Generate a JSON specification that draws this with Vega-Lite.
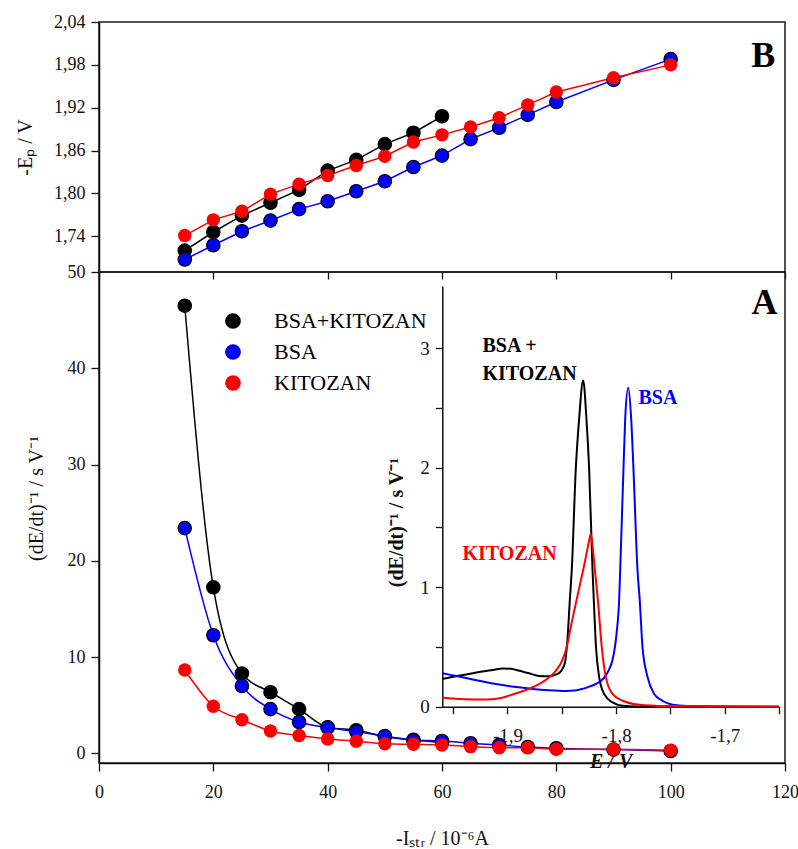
{
  "$schema": "https://vega.github.io/schema/vega-lite/v6.json",
  "padding": {"left": 14, "top": 12, "right": 5, "bottom": 5},
  "background": "white",
  "spacing": 0,
  "bounds": "flush",
  "datasets": {
    "B": [
      {"series": "BSA+KITOZAN", "I": 15, "Ep": 1.720},
      {"series": "BSA+KITOZAN", "I": 20, "Ep": 1.746},
      {"series": "BSA+KITOZAN", "I": 25, "Ep": 1.769},
      {"series": "BSA+KITOZAN", "I": 30, "Ep": 1.787},
      {"series": "BSA+KITOZAN", "I": 35, "Ep": 1.805},
      {"series": "BSA+KITOZAN", "I": 40, "Ep": 1.832},
      {"series": "BSA+KITOZAN", "I": 45, "Ep": 1.847},
      {"series": "BSA+KITOZAN", "I": 50, "Ep": 1.869},
      {"series": "BSA+KITOZAN", "I": 55, "Ep": 1.885},
      {"series": "BSA+KITOZAN", "I": 60, "Ep": 1.908},
      {"series": "BSA", "I": 15, "Ep": 1.7075},
      {"series": "BSA", "I": 20, "Ep": 1.7275},
      {"series": "BSA", "I": 25, "Ep": 1.747},
      {"series": "BSA", "I": 30, "Ep": 1.762},
      {"series": "BSA", "I": 35, "Ep": 1.778},
      {"series": "BSA", "I": 40, "Ep": 1.789},
      {"series": "BSA", "I": 45, "Ep": 1.803},
      {"series": "BSA", "I": 50, "Ep": 1.817},
      {"series": "BSA", "I": 55, "Ep": 1.837},
      {"series": "BSA", "I": 60, "Ep": 1.853},
      {"series": "BSA", "I": 65, "Ep": 1.876},
      {"series": "BSA", "I": 70, "Ep": 1.892},
      {"series": "BSA", "I": 75, "Ep": 1.910},
      {"series": "BSA", "I": 80, "Ep": 1.928},
      {"series": "BSA", "I": 90, "Ep": 1.959},
      {"series": "BSA", "I": 100, "Ep": 1.988},
      {"series": "KITOZAN", "I": 15, "Ep": 1.741},
      {"series": "KITOZAN", "I": 20, "Ep": 1.763},
      {"series": "KITOZAN", "I": 25, "Ep": 1.775},
      {"series": "KITOZAN", "I": 30, "Ep": 1.799},
      {"series": "KITOZAN", "I": 35, "Ep": 1.813},
      {"series": "KITOZAN", "I": 40, "Ep": 1.825},
      {"series": "KITOZAN", "I": 45, "Ep": 1.839},
      {"series": "KITOZAN", "I": 50, "Ep": 1.852},
      {"series": "KITOZAN", "I": 55, "Ep": 1.872},
      {"series": "KITOZAN", "I": 60, "Ep": 1.882},
      {"series": "KITOZAN", "I": 65, "Ep": 1.893},
      {"series": "KITOZAN", "I": 70, "Ep": 1.906},
      {"series": "KITOZAN", "I": 75, "Ep": 1.924},
      {"series": "KITOZAN", "I": 80, "Ep": 1.942},
      {"series": "KITOZAN", "I": 90, "Ep": 1.962},
      {"series": "KITOZAN", "I": 100, "Ep": 1.980}
    ],
    "A": [
      {"series": "BSA+KITOZAN", "I": 15, "inv": 46.5},
      {"series": "BSA+KITOZAN", "I": 20, "inv": 17.25},
      {"series": "BSA+KITOZAN", "I": 25, "inv": 8.3},
      {"series": "BSA+KITOZAN", "I": 30, "inv": 6.35},
      {"series": "BSA+KITOZAN", "I": 35, "inv": 4.6},
      {"series": "BSA+KITOZAN", "I": 40, "inv": 2.7},
      {"series": "BSA+KITOZAN", "I": 45, "inv": 2.4},
      {"series": "BSA+KITOZAN", "I": 50, "inv": 1.75},
      {"series": "BSA+KITOZAN", "I": 55, "inv": 1.4},
      {"series": "BSA+KITOZAN", "I": 60, "inv": 1.15},
      {"series": "BSA", "I": 15, "inv": 23.4},
      {"series": "BSA", "I": 20, "inv": 12.27},
      {"series": "BSA", "I": 25, "inv": 7.0},
      {"series": "BSA", "I": 30, "inv": 4.6},
      {"series": "BSA", "I": 35, "inv": 3.26},
      {"series": "BSA", "I": 40, "inv": 2.68},
      {"series": "BSA", "I": 45, "inv": 2.27},
      {"series": "BSA", "I": 50, "inv": 1.8},
      {"series": "BSA", "I": 55, "inv": 1.36},
      {"series": "BSA", "I": 60, "inv": 1.29},
      {"series": "BSA", "I": 65, "inv": 1.05},
      {"series": "BSA", "I": 70, "inv": 0.87},
      {"series": "BSA", "I": 75, "inv": 0.66},
      {"series": "BSA", "I": 80, "inv": 0.53},
      {"series": "BSA", "I": 90, "inv": 0.39},
      {"series": "BSA", "I": 100, "inv": 0.25},
      {"series": "KITOZAN", "I": 15, "inv": 8.66},
      {"series": "KITOZAN", "I": 20, "inv": 4.9},
      {"series": "KITOZAN", "I": 25, "inv": 3.5},
      {"series": "KITOZAN", "I": 30, "inv": 2.33},
      {"series": "KITOZAN", "I": 35, "inv": 1.85},
      {"series": "KITOZAN", "I": 40, "inv": 1.5},
      {"series": "KITOZAN", "I": 45, "inv": 1.27},
      {"series": "KITOZAN", "I": 50, "inv": 1.0},
      {"series": "KITOZAN", "I": 55, "inv": 0.94},
      {"series": "KITOZAN", "I": 60, "inv": 0.87},
      {"series": "KITOZAN", "I": 65, "inv": 0.70},
      {"series": "KITOZAN", "I": 70, "inv": 0.59},
      {"series": "KITOZAN", "I": 75, "inv": 0.59},
      {"series": "KITOZAN", "I": 80, "inv": 0.43},
      {"series": "KITOZAN", "I": 90, "inv": 0.43},
      {"series": "KITOZAN", "I": 100, "inv": 0.32}
    ],
    "inset": [
      {"series": "BSA+KITOZAN", "E": -1.960, "v": 0.233},
      {"series": "BSA+KITOZAN", "E": -1.950, "v": 0.25},
      {"series": "BSA+KITOZAN", "E": -1.938, "v": 0.27},
      {"series": "BSA+KITOZAN", "E": -1.923, "v": 0.295},
      {"series": "BSA+KITOZAN", "E": -1.912, "v": 0.31},
      {"series": "BSA+KITOZAN", "E": -1.9046, "v": 0.32},
      {"series": "BSA+KITOZAN", "E": -1.897, "v": 0.318},
      {"series": "BSA+KITOZAN", "E": -1.889, "v": 0.30},
      {"series": "BSA+KITOZAN", "E": -1.880, "v": 0.28},
      {"series": "BSA+KITOZAN", "E": -1.871, "v": 0.257},
      {"series": "BSA+KITOZAN", "E": -1.862, "v": 0.255},
      {"series": "BSA+KITOZAN", "E": -1.855, "v": 0.27},
      {"series": "BSA+KITOZAN", "E": -1.8505, "v": 0.30},
      {"series": "BSA+KITOZAN", "E": -1.847, "v": 0.37},
      {"series": "BSA+KITOZAN", "E": -1.8448, "v": 0.56},
      {"series": "BSA+KITOZAN", "E": -1.8426, "v": 0.89},
      {"series": "BSA+KITOZAN", "E": -1.8408, "v": 1.146},
      {"series": "BSA+KITOZAN", "E": -1.8371, "v": 1.99},
      {"series": "BSA+KITOZAN", "E": -1.834, "v": 2.41},
      {"series": "BSA+KITOZAN", "E": -1.8303, "v": 2.73},
      {"series": "BSA+KITOZAN", "E": -1.8273, "v": 2.41},
      {"series": "BSA+KITOZAN", "E": -1.8248, "v": 1.99},
      {"series": "BSA+KITOZAN", "E": -1.8217, "v": 1.146},
      {"series": "BSA+KITOZAN", "E": -1.8205, "v": 0.89},
      {"series": "BSA+KITOZAN", "E": -1.8185, "v": 0.5},
      {"series": "BSA+KITOZAN", "E": -1.8156, "v": 0.25},
      {"series": "BSA+KITOZAN", "E": -1.811, "v": 0.107},
      {"series": "BSA+KITOZAN", "E": -1.8033, "v": 0.036},
      {"series": "BSA+KITOZAN", "E": -1.794, "v": 0.008},
      {"series": "BSA+KITOZAN", "E": -1.78, "v": 0.002},
      {"series": "BSA+KITOZAN", "E": -1.65, "v": 0.0},
      {"series": "BSA", "E": -1.960, "v": 0.28},
      {"series": "BSA", "E": -1.950, "v": 0.262},
      {"series": "BSA", "E": -1.938, "v": 0.24},
      {"series": "BSA", "E": -1.925, "v": 0.215},
      {"series": "BSA", "E": -1.9076, "v": 0.185},
      {"series": "BSA", "E": -1.892, "v": 0.165},
      {"series": "BSA", "E": -1.877, "v": 0.149},
      {"series": "BSA", "E": -1.862, "v": 0.138},
      {"series": "BSA", "E": -1.8463, "v": 0.132},
      {"series": "BSA", "E": -1.838, "v": 0.135},
      {"series": "BSA", "E": -1.8309, "v": 0.149},
      {"series": "BSA", "E": -1.824, "v": 0.17},
      {"series": "BSA", "E": -1.8187, "v": 0.19},
      {"series": "BSA", "E": -1.8135, "v": 0.22},
      {"series": "BSA", "E": -1.8095, "v": 0.26},
      {"series": "BSA", "E": -1.806, "v": 0.32},
      {"series": "BSA", "E": -1.8033, "v": 0.39},
      {"series": "BSA", "E": -1.7996, "v": 0.61},
      {"series": "BSA", "E": -1.7972, "v": 0.89},
      {"series": "BSA", "E": -1.7962, "v": 1.146},
      {"series": "BSA", "E": -1.7932, "v": 1.99},
      {"series": "BSA", "E": -1.7916, "v": 2.41},
      {"series": "BSA", "E": -1.7889, "v": 2.668},
      {"series": "BSA", "E": -1.7861, "v": 2.41},
      {"series": "BSA", "E": -1.784, "v": 1.99},
      {"series": "BSA", "E": -1.7803, "v": 1.146},
      {"series": "BSA", "E": -1.7782, "v": 0.89},
      {"series": "BSA", "E": -1.7757, "v": 0.5},
      {"series": "BSA", "E": -1.7711, "v": 0.25},
      {"series": "BSA", "E": -1.7649, "v": 0.107},
      {"series": "BSA", "E": -1.7573, "v": 0.05},
      {"series": "BSA", "E": -1.748, "v": 0.017},
      {"series": "BSA", "E": -1.735, "v": 0.006},
      {"series": "BSA", "E": -1.70, "v": 0.002},
      {"series": "BSA", "E": -1.65, "v": 0.0},
      {"series": "KITOZAN", "E": -1.960, "v": 0.078},
      {"series": "KITOZAN", "E": -1.950, "v": 0.068},
      {"series": "KITOZAN", "E": -1.938, "v": 0.062},
      {"series": "KITOZAN", "E": -1.925, "v": 0.06},
      {"series": "KITOZAN", "E": -1.914, "v": 0.062},
      {"series": "KITOZAN", "E": -1.905, "v": 0.075},
      {"series": "KITOZAN", "E": -1.8985, "v": 0.093},
      {"series": "KITOZAN", "E": -1.891, "v": 0.115},
      {"series": "KITOZAN", "E": -1.883, "v": 0.14},
      {"series": "KITOZAN", "E": -1.875, "v": 0.17},
      {"series": "KITOZAN", "E": -1.8678, "v": 0.205},
      {"series": "KITOZAN", "E": -1.861, "v": 0.25},
      {"series": "KITOZAN", "E": -1.8555, "v": 0.30},
      {"series": "KITOZAN", "E": -1.850, "v": 0.38},
      {"series": "KITOZAN", "E": -1.8463, "v": 0.47},
      {"series": "KITOZAN", "E": -1.8405, "v": 0.72},
      {"series": "KITOZAN", "E": -1.835, "v": 0.95},
      {"series": "KITOZAN", "E": -1.829, "v": 1.2},
      {"series": "KITOZAN", "E": -1.825, "v": 1.38},
      {"series": "KITOZAN", "E": -1.8233, "v": 1.445},
      {"series": "KITOZAN", "E": -1.8215, "v": 1.33},
      {"series": "KITOZAN", "E": -1.8195, "v": 1.146},
      {"series": "KITOZAN", "E": -1.8165, "v": 0.865},
      {"series": "KITOZAN", "E": -1.8132, "v": 0.5},
      {"series": "KITOZAN", "E": -1.8095, "v": 0.25},
      {"series": "KITOZAN", "E": -1.8033, "v": 0.107},
      {"series": "KITOZAN", "E": -1.794, "v": 0.05},
      {"series": "KITOZAN", "E": -1.7787, "v": 0.017},
      {"series": "KITOZAN", "E": -1.7545, "v": 0.006},
      {"series": "KITOZAN", "E": -1.70, "v": 0.002},
      {"series": "KITOZAN", "E": -1.65, "v": 0.0}
    ]
  },
  "vconcat": [
    {
      "width": 686,
      "height": 250,
      "layer": [
        {
          "data": {"name": "B"},
          "mark": {"type": "line", "strokeWidth": 1.5},
          "encoding": {
            "x": {"field": "I", "type": "quantitative", "scale": {"domain": [0, 120], "nice": false},
                  "axis": {"orient": "bottom", "values": [0, 20, 40, 60, 80, 100, 120], "labels": false, "domain": false, "title": null, "tickSize": 7}},
            "y": {"field": "Ep", "type": "quantitative", "scale": {"domain": [1.69, 2.04], "zero": false, "nice": false},
                  "axis": {"values": [1.74, 1.80, 1.86, 1.92, 1.98, 2.04], "labelExpr": "replace(format(datum.value, '.2f'), '.', ',')", "title": "-Eₚ / V", "titlePadding": 18}},
            "color": {"field": "series", "type": "nominal", "scale": {"domain": ["BSA+KITOZAN", "BSA", "KITOZAN"], "range": ["#000000", "#0000ff", "#ff0000"]}, "legend": null}
          }
        },
        {
          "data": {"name": "B"},
          "mark": {"type": "point", "filled": true, "size": 180, "stroke": "black", "strokeWidth": 1.2, "opacity": 1},
          "encoding": {
            "x": {"field": "I", "type": "quantitative"},
            "y": {"field": "Ep", "type": "quantitative"},
            "fill": {"field": "series", "type": "nominal", "scale": {"domain": ["BSA+KITOZAN", "BSA", "KITOZAN"], "range": ["#000000", "#0000ff", "#ff0000"]}, "legend": null},
            "strokeOpacity": {"condition": {"test": "datum.series === 'KITOZAN'", "value": 0}, "value": 1}
          }
        },
        {
          "data": {"values": [{}]},
          "mark": {"type": "text", "text": "B", "font": "Liberation Serif", "fontSize": 36, "fontWeight": "bold", "align": "center", "baseline": "middle", "color": "black"},
          "encoding": {"x": {"datum": 116.2, "type": "quantitative"}, "y": {"datum": 1.9927, "type": "quantitative"}}
        }
      ]
    },
    {
      "width": 686,
      "height": 491,
      "layer": [
        {
          "layer": [
            {
              "data": {"name": "A"},
              "mark": {"type": "line", "strokeWidth": 1.5, "interpolate": "monotone"},
              "encoding": {
                "x": {"field": "I", "type": "quantitative", "scale": {"domain": [0, 120], "nice": false},
                      "axis": {"orient": "bottom", "values": [0, 20, 40, 60, 80, 100, 120], "title": "-Iₛₜᵣ / 10⁻⁶A", "labelPadding": 12, "titlePadding": 27}},
                "y": {"field": "inv", "type": "quantitative", "scale": {"domain": [-1, 50], "nice": false, "zero": false},
                      "axis": {"orient": "left", "values": [0, 10, 20, 30, 40, 50], "title": "(dE/dt)⁻¹ / s V⁻¹", "titlePadding": 21, "titleY": 226}},
                "color": {"field": "series", "type": "nominal", "scale": {"domain": ["BSA+KITOZAN", "BSA", "KITOZAN"], "range": ["#000000", "#0000ff", "#ff0000"]},
                          "legend": {"orient": "none", "legendX": 123, "legendY": 38, "title": null, "labelFont": "Liberation Serif", "labelFontSize": 22, "labelColor": "black", "symbolType": "circle", "symbolSize": 60, "symbolStrokeWidth": 8, "symbolOpacity": 1, "labelOffset": 30, "rowPadding": -11.5}}
              }
            },
            {
              "data": {"name": "A"},
              "mark": {"type": "point", "filled": true, "size": 180, "stroke": "black", "strokeWidth": 1.2, "opacity": 1},
              "encoding": {
                "x": {"field": "I", "type": "quantitative"},
                "y": {"field": "inv", "type": "quantitative"},
                "fill": {"field": "series", "type": "nominal", "scale": {"domain": ["BSA+KITOZAN", "BSA", "KITOZAN"], "range": ["#000000", "#0000ff", "#ff0000"]}, "legend": null},
                "strokeOpacity": {"condition": {"test": "datum.series === 'KITOZAN'", "value": 0}, "value": 1}
              }
            },
            {
              "data": {"values": [{}]},
              "mark": {"type": "text", "text": "A", "font": "Liberation Serif", "fontSize": 36, "fontWeight": "bold", "align": "center", "baseline": "middle", "color": "black"},
              "encoding": {"x": {"datum": 116.4, "type": "quantitative"}, "y": {"datum": 46.8, "type": "quantitative"}}
            }
          ]
        },
        {
          "layer": [
            {
              "data": {"name": "inset"},
              "mark": {"type": "line", "strokeWidth": 2, "interpolate": "monotone"},
              "encoding": {
                "x": {"field": "E", "type": "quantitative", "scale": {"domain": [-1.96, -1.65], "range": [343.3, 680], "nice": false, "zero": false},
                      "axis": {"orient": "bottom", "offset": -56.3, "values": [-1.95, -1.9, -1.85, -1.8, -1.75, -1.7, -1.65],
                               "labelExpr": "abs(datum.value*10 - round(datum.value*10)) < 0.01 ? replace(replace(format(datum.value, '.1f'), '.', ','), '−', '-') : ''",
                               "title": "E / V", "titleFontWeight": "bold", "titleFontStyle": "italic", "labelFontSize": 19, "tickSize": 7, "labelPadding": 13, "titlePadding": 6}},
                "y": {"field": "v", "type": "quantitative", "scale": {"domain": [0, 3.52], "range": [434.7, 14], "nice": false, "zero": false},
                      "axis": {"orient": "left", "offset": -343.3, "values": [0, 0.5, 1, 1.5, 2, 2.5, 3],
                               "labelExpr": "floor(datum.value) === datum.value ? format(datum.value, 'd') : ''",
                               "title": "(dE/dt)⁻¹ / s V⁻¹", "titleFontWeight": "bold", "labelFontSize": 19, "tickSize": 7, "labelPadding": 6, "titlePadding": 13, "titleY": 250}},
                "color": {"field": "series", "type": "nominal", "scale": {"domain": ["BSA+KITOZAN", "BSA", "KITOZAN"], "range": ["#000000", "#0000ff", "#ff0000"]}}
              }
            },
            {
              "data": {"values": [{}]},
              "mark": {"type": "text", "text": ["BSA +", "KITOZAN"], "lineHeight": 28, "font": "Liberation Serif", "fontSize": 20, "fontWeight": "bold", "align": "left", "baseline": "middle", "color": "black"},
              "encoding": {"x": {"datum": -1.923, "type": "quantitative"}, "y": {"datum": 3.018, "type": "quantitative"}}
            },
            {
              "data": {"values": [{}]},
              "mark": {"type": "text", "text": "BSA", "font": "Liberation Serif", "fontSize": 20, "fontWeight": "bold", "align": "left", "baseline": "middle", "color": "#0000ff"},
              "encoding": {"x": {"datum": -1.7794, "type": "quantitative"}, "y": {"datum": 2.583, "type": "quantitative"}}
            },
            {
              "data": {"values": [{}]},
              "mark": {"type": "text", "text": "KITOZAN", "font": "Liberation Serif", "fontSize": 20, "fontWeight": "bold", "align": "left", "baseline": "middle", "color": "#ff0000"},
              "encoding": {"x": {"datum": -1.9414, "type": "quantitative"}, "y": {"datum": 1.278, "type": "quantitative"}}
            }
          ]
        }
      ],
      "resolve": {"scale": {"x": "independent", "y": "independent"}, "axis": {"x": "independent", "y": "independent"}}
    }
  ],
  "resolve": {"scale": {"x": "independent", "y": "independent", "color": "independent", "fill": "independent"}},
  "config": {
    "font": "Liberation Serif",
    "view": {"stroke": "#1a1a1a", "strokeWidth": 1.5},
    "axis": {
      "grid": false,
      "labelFont": "Liberation Serif", "labelFontSize": 18, "labelColor": "#111111",
      "titleFont": "Liberation Serif", "titleFontSize": 20, "titleFontWeight": "normal", "titleColor": "#111111",
      "tickColor": "#111111", "domainColor": "#111111", "tickWidth": 1.3, "domainWidth": 1.5,
      "tickSize": 8, "labelPadding": 6, "labelFlush": false, "labelOverlap": false
    },
    "legend": {"labelFont": "Liberation Serif"}
  }
}
